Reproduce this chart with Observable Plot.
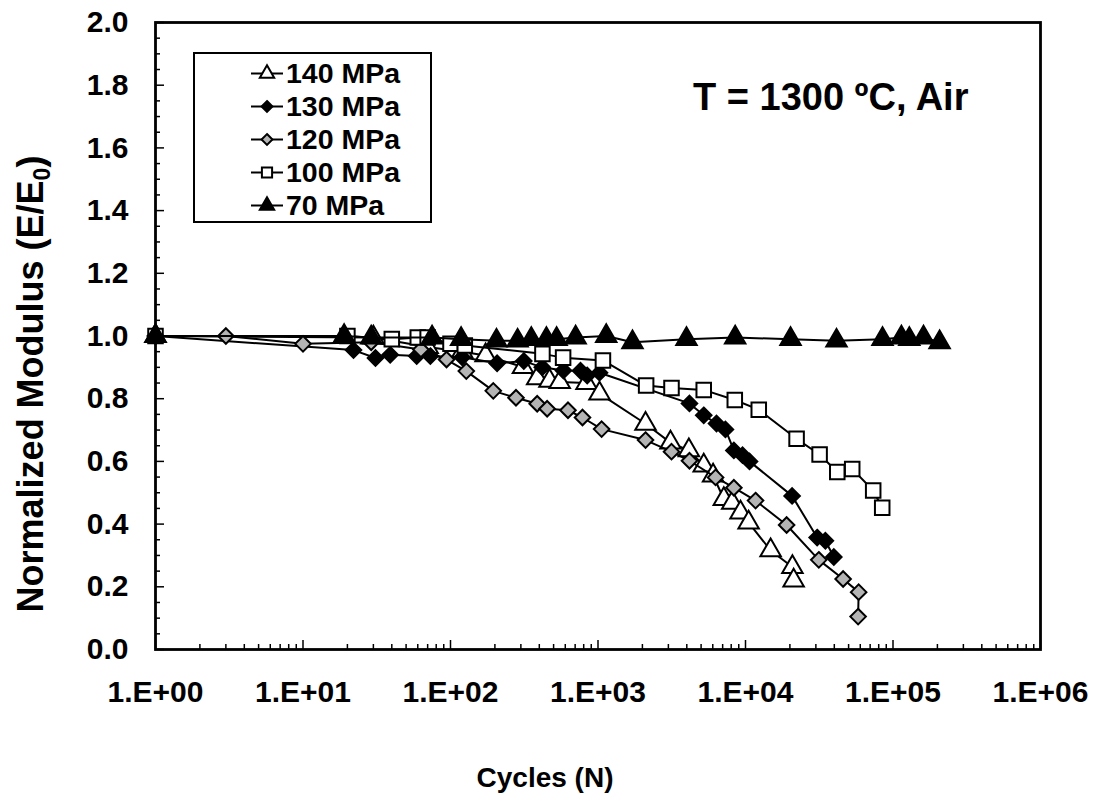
<!DOCTYPE html>
<html><head><meta charset="utf-8">
<script src="https://cdn.jsdelivr.net/npm/d3@7"></script>
<script src="https://cdn.jsdelivr.net/npm/@observablehq/plot@0.6"></script>
<style>
body{margin:0;background:#fff;}
#wrap{position:relative;width:1100px;height:798px;font-family:"Liberation Sans",Arial,sans-serif;font-weight:bold;color:#000;}
.ov{position:absolute;white-space:nowrap;}
</style></head><body><div id="wrap"></div>
<script>
const seriesNames = ["140 MPa","130 MPa","120 MPa","100 MPa","70 MPa"];

const cycles140  = [1, 30, 70, 120, 173, 310, 387, 469, 550, 836, 1024, 2100, 3100, 4130, 5210, 6030, 7130, 8130, 9250, 10500, 14800, 20800, 21200];
const modulus140 = [1.0, 0.995, 0.965, 0.95, 0.938, 0.901, 0.865, 0.857, 0.853, 0.85, 0.816, 0.72, 0.66, 0.635, 0.587, 0.555, 0.48, 0.468, 0.437, 0.405, 0.316, 0.263, 0.22];

const cycles130  = [1, 22, 31, 39, 59, 73, 120, 207, 314, 419, 583, 761, 845, 1024, 4170, 5210, 6360, 7310, 8340, 9550, 10650, 20700, 30600, 34800, 39700];
const modulus130 = [1.0, 0.955, 0.93, 0.94, 0.936, 0.936, 0.932, 0.913, 0.92, 0.9, 0.89, 0.889, 0.874, 0.883, 0.785, 0.747, 0.721, 0.702, 0.635, 0.62, 0.6, 0.49, 0.357, 0.347, 0.295];

const cycles120  = [1, 3, 10, 29, 63, 94, 128, 195, 278, 387, 452, 626, 785, 1058, 2100, 3150, 4170, 6270, 8340, 11700, 19000, 31400, 45900, 58500, 58000];
const modulus120 = [1.0, 1.0, 0.975, 0.98, 0.957, 0.925, 0.888, 0.825, 0.803, 0.784, 0.768, 0.763, 0.74, 0.703, 0.668, 0.631, 0.602, 0.549, 0.516, 0.475, 0.397, 0.286, 0.225, 0.183, 0.105];

const cycles100  = [1, 20, 40, 60, 70, 100, 125, 420, 580, 1080, 2120, 3150, 5210, 8460, 12300, 22200, 31800, 41900, 52900, 73400, 84500];
const modulus100 = [1.0, 1.0, 0.99, 0.995, 0.995, 0.975, 0.97, 0.943, 0.931, 0.922, 0.842, 0.834, 0.828, 0.796, 0.765, 0.672, 0.622, 0.566, 0.576, 0.507, 0.452];

const cycles70  = [1, 19, 29, 75, 118, 205, 285, 353, 447, 524, 705, 1137, 1713, 3980, 8510, 20200, 41400, 84900, 114000, 129000, 161000, 207000];
const modulus70 = [1.0, 1.0, 0.995, 0.995, 0.99, 0.985, 0.985, 0.99, 0.99, 0.99, 0.995, 1.0, 0.98, 0.99, 0.995, 0.99, 0.985, 0.99, 0.995, 0.99, 0.995, 0.98];

const xTickValues = [1, 10, 100, 1000, 10000, 100000, 1000000];
const xTickLabels = ["1.E+00","1.E+01","1.E+02","1.E+03","1.E+04","1.E+05","1.E+06"];
const yTickValues = [0, 0.2, 0.4, 0.6, 0.8, 1.0, 1.2, 1.4, 1.6, 1.8, 2.0];

const styles = [
  {symbol: "triangle", fill: "white", r: 7.6},
  {symbol: "diamond2", fill: "black", r: 7},
  {symbol: "diamond2", fill: "#b4b4b4", r: 7},
  {symbol: "square", fill: "white", r: 8.2},
  {symbol: "triangle", fill: "black", r: 7.6}
];

const allCycles = [cycles140, cycles130, cycles120, cycles100, cycles70];
const allModulus = [modulus140, modulus130, modulus120, modulus100, modulus70];
const series = seriesNames.map((name, i) => allCycles[i].map((c, j) => ({name, cycles: c, modulus: allModulus[i][j]})));

const W = 1100, H = 798, mL = 155, mR = 60, mT = 22, mB = 149;
const innerW = W - mL - mR, innerH = H - mT - mB;

const xMinor = [];
for (let d = 0; d < 6; d++) for (let k = 2; k <= 9; k++) xMinor.push(k * Math.pow(10, d));
const yMinor = d3.range(0, 2.0001, 0.05).map(v => +v.toFixed(2)).filter(v => Math.abs(v*5 - Math.round(v*5)) > 1e-6);

const marks = [];
series.forEach((data, i) => {
  marks.push(Plot.line(data, {x: "cycles", y: "modulus", stroke: "black", strokeWidth: 2}));
  marks.push(Plot.dot(data, {x: "cycles", y: "modulus", symbol: () => styles[i].symbol, r: styles[i].r, fill: styles[i].fill, stroke: "black", strokeWidth: 2}));
});

const chart = Plot.plot({
  width: W, height: H,
  marginLeft: mL, marginRight: mR, marginTop: mT, marginBottom: mB,
  style: {fontFamily: '"Liberation Sans", Arial, sans-serif', fontWeight: "bold", fontSize: "30px", color: "black", background: "white"},
  x: {type: "log", domain: [1, 1e6]},
  y: {domain: [0, 2]},
  symbol: {type: "identity"},
  marks: [
    Plot.tickX(xMinor, {x: d => d, insetTop: innerH - 5, stroke: "black", strokeWidth: 1.5}),
    Plot.tickX(xTickValues, {x: d => d, insetTop: innerH - 9, stroke: "black", strokeWidth: 1.5}),
    Plot.tickY(yMinor, {y: d => d, insetRight: innerW - 5, stroke: "black", strokeWidth: 1.5}),
    Plot.tickY(yTickValues, {y: d => d, insetRight: innerW - 9, stroke: "black", strokeWidth: 1.5}),
    Plot.axisX({ticks: xTickValues, tickSize: 0, tickPadding: 31, tickFormat: d => xTickLabels[xTickValues.indexOf(d)], label: null}),
    Plot.axisY({ticks: yTickValues, tickSize: 0, tickPadding: 27, tickFormat: d => d.toFixed(1), label: null}),
    ...marks,
    Plot.frame({stroke: "black", strokeWidth: 2.8})
  ]
});

const wrap = document.getElementById("wrap");
wrap.appendChild(chart);

// legend
const legend = document.createElement("div");
legend.className = "ov";
Object.assign(legend.style, {left: "193px", top: "52px", width: "235px", height: "167px", border: "2px solid black", background: "white"});
wrap.appendChild(legend);
seriesNames.forEach((name, i) => {
  const row = document.createElement("div");
  row.className = "ov";
  Object.assign(row.style, {left: "54px", top: (3 + i * 33) + "px", height: "33px", display: "flex", alignItems: "center", fontSize: "28.5px"});
  const r = styles[i].r * 0.7;
  const sym = d3.symbol(i === 0 || i === 4 ? d3.symbolTriangle : i === 3 ? d3.symbolSquare : d3.symbolDiamond2, Math.PI * r * r)();
  row.innerHTML = `<svg width="36" height="33" style="margin-right:1px"><line x1="2" x2="34" y1="16.5" y2="16.5" stroke="black" stroke-width="2"/><path d="${sym}" transform="translate(18,16.5)" fill="${styles[i].fill}" stroke="black" stroke-width="2"/></svg><span>${name}</span>`;
  legend.appendChild(row);
});

// annotation
const ann = document.createElement("div");
ann.className = "ov";
Object.assign(ann.style, {left: "693px", top: "74px", fontSize: "38px", lineHeight: "46px"});
ann.textContent = "T = 1300 ºC, Air";
wrap.appendChild(ann);

// y label
const yl = document.createElement("div");
yl.className = "ov";
Object.assign(yl.style, {left: (31 - 350) + "px", top: (384 - 25) + "px", width: "700px", height: "50px", lineHeight: "50px", textAlign: "center", fontSize: "36px", transform: "rotate(-90deg)", transformOrigin: "50% 50%"});
yl.innerHTML = "Normalized Modulus (E/E<sub style='font-size:23px;vertical-align:-7px'>0</sub>)";
wrap.appendChild(yl);

// x label
const xl = document.createElement("div");
xl.className = "ov";
Object.assign(xl.style, {left: (545 - 200) + "px", top: "759px", width: "400px", textAlign: "center", fontSize: "28px", lineHeight: "38px"});
xl.textContent = "Cycles (N)";
wrap.appendChild(xl);
</script></body></html>
